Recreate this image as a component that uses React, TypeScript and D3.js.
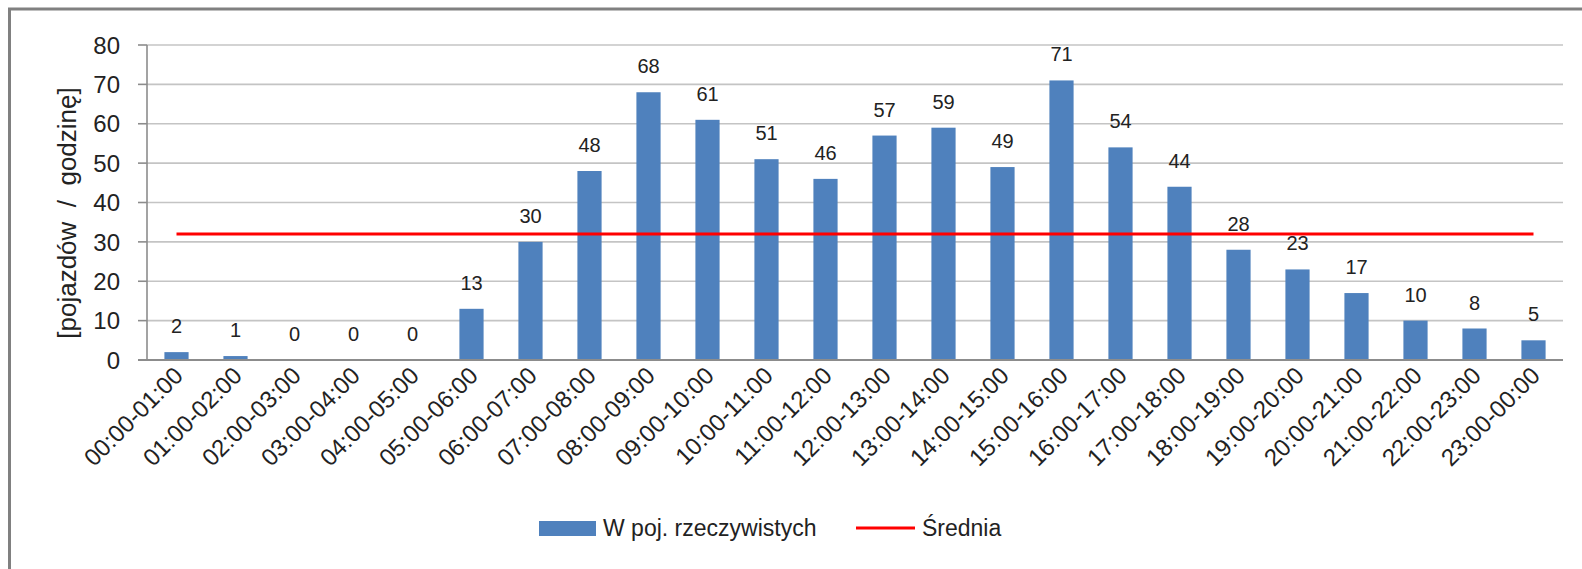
import * as d3 from "d3"
import { useEffect, useRef } from "react"

const hours = [
  "00:00-01:00", "01:00-02:00", "02:00-03:00", "03:00-04:00", "04:00-05:00",
  "05:00-06:00", "06:00-07:00", "07:00-08:00", "08:00-09:00", "09:00-10:00",
  "10:00-11:00", "11:00-12:00", "12:00-13:00", "13:00-14:00", "14:00-15:00",
  "15:00-16:00", "16:00-17:00", "17:00-18:00", "18:00-19:00", "19:00-20:00",
  "20:00-21:00", "21:00-22:00", "22:00-23:00", "23:00-00:00",
]
const vehicles = [2, 1, 0, 0, 0, 13, 30, 48, 68, 61, 51, 46, 57, 59, 49, 71, 54, 44, 28, 23, 17, 10, 8, 5]
const average = [32, 32, 32, 32, 32, 32, 32, 32, 32, 32, 32, 32, 32, 32, 32, 32, 32, 32, 32, 32, 32, 32, 32, 32]
const yTicks = [0, 10, 20, 30, 40, 50, 60, 70, 80]
const seriesNames = ["W poj. rzeczywistych", "Średnia"]
const yTitle = "[pojazdów  /  godzinę]"

const W = 1582
const H = 569
const FONT = "Arial, 'Liberation Sans', sans-serif"

const TrafficChart = () => {
  const svgRef = useRef<SVGSVGElement | null>(null)

  useEffect(() => {
    if (!svgRef.current) return
    const svg = d3.select(svgRef.current)
    svg.selectAll("*").remove()

    const plot = { left: 147, right: 1563, top: 45, bottom: 360 }

    const x = d3.scaleBand().domain(hours).range([plot.left, plot.right]).padding(0)
    const y = d3.scaleLinear().domain([0, 80]).range([plot.bottom, plot.top])
    const barW = x.bandwidth() * 0.41

    // frame
    svg
      .append("rect")
      .attr("x", 9.5)
      .attr("y", 9)
      .attr("width", W + 20)
      .attr("height", H + 20)
      .attr("fill", "#fff")
      .attr("stroke", "#808080")
      .attr("stroke-width", 3)

    // gridlines
    svg
      .append("g")
      .selectAll("line")
      .data(yTicks.filter((t) => t > 0))
      .enter()
      .append("line")
      .attr("x1", plot.left)
      .attr("x2", plot.right)
      .attr("y1", (d) => y(d))
      .attr("y2", (d) => y(d))
      .attr("stroke", "#c4c4c4")
      .attr("stroke-width", 1.6)

    // tick marks
    svg
      .append("g")
      .selectAll("line")
      .data(yTicks)
      .enter()
      .append("line")
      .attr("x1", plot.left - 9)
      .attr("x2", plot.left)
      .attr("y1", (d) => y(d))
      .attr("y2", (d) => y(d))
      .attr("stroke", "#8c8c8c")
      .attr("stroke-width", 1.6)

    // y labels
    svg
      .append("g")
      .selectAll("text")
      .data(yTicks)
      .enter()
      .append("text")
      .attr("x", 120)
      .attr("y", (d) => y(d))
      .attr("dy", "0.36em")
      .attr("text-anchor", "end")
      .style("font", `24px ${FONT}`)
      .attr("fill", "#222")
      .text((d) => d)

    // y title
    svg
      .append("text")
      .attr("transform", `translate(76,213) rotate(-90)`)
      .attr("text-anchor", "middle")
      .style("font", `26px ${FONT}`)
      .style("white-space", "pre")
      .attr("fill", "#222")
      .text(yTitle)

    // bars
    svg
      .append("g")
      .selectAll("rect")
      .data(vehicles)
      .enter()
      .append("rect")
      .attr("x", (d, i) => x(hours[i])! + x.bandwidth() / 2 - barW / 2)
      .attr("y", (d) => y(d))
      .attr("width", barW)
      .attr("height", (d) => y(0) - y(d))
      .attr("fill", "#4f81bd")

    // axes lines
    svg
      .append("line")
      .attr("x1", plot.left)
      .attr("x2", plot.left)
      .attr("y1", plot.top)
      .attr("y2", plot.bottom)
      .attr("stroke", "#8c8c8c")
      .attr("stroke-width", 1.6)
    svg
      .append("line")
      .attr("x1", plot.left - 9)
      .attr("x2", plot.right)
      .attr("y1", plot.bottom)
      .attr("y2", plot.bottom)
      .attr("stroke", "#8c8c8c")
      .attr("stroke-width", 2)

    // average line
    const line = d3
      .line<number>()
      .x((d, i) => x(hours[i])! + x.bandwidth() / 2)
      .y((d) => y(d))
    svg
      .append("path")
      .datum(average)
      .attr("d", line)
      .attr("fill", "none")
      .attr("stroke", "#ff0000")
      .attr("stroke-width", 3)

    // data labels
    svg
      .append("g")
      .selectAll("text")
      .data(vehicles)
      .enter()
      .append("text")
      .attr("x", (d, i) => x(hours[i])! + x.bandwidth() / 2)
      .attr("y", (d) => y(d) - 19)
      .attr("text-anchor", "middle")
      .style("font", `20px ${FONT}`)
      .attr("fill", "#222")
      .text((d) => d)

    // x labels
    svg
      .append("g")
      .selectAll("text")
      .data(hours)
      .enter()
      .append("text")
      .attr(
        "transform",
        (d) => `translate(${x(d)! + x.bandwidth() / 2 + 8},${plot.bottom + 17}) rotate(-45)`,
      )
      .attr("text-anchor", "end")
      .style("font", `24px ${FONT}`)
      .attr("fill", "#222")
      .text((d) => d)

    // legend
    const lg = svg.append("g")
    lg.append("rect")
      .attr("x", 539)
      .attr("y", 521)
      .attr("width", 57)
      .attr("height", 15)
      .attr("fill", "#4f81bd")
    lg.append("text")
      .attr("x", 603)
      .attr("y", 536)
      .style("font", `23px ${FONT}`)
      .attr("fill", "#222")
      .text(seriesNames[0])
    lg.append("line")
      .attr("x1", 856)
      .attr("x2", 915)
      .attr("y1", 528)
      .attr("y2", 528)
      .attr("stroke", "#ff0000")
      .attr("stroke-width", 3)
    lg.append("text")
      .attr("x", 922)
      .attr("y", 536)
      .style("font", `23px ${FONT}`)
      .attr("fill", "#222")
      .text(seriesNames[1])
  }, [])

  return (
    <svg
      ref={svgRef}
      width={W}
      height={H}
      style={{ position: "absolute", left: 0, top: 0, display: "block" }}
    />
  )
}

export default function App() {
  return <TrafficChart />
}
